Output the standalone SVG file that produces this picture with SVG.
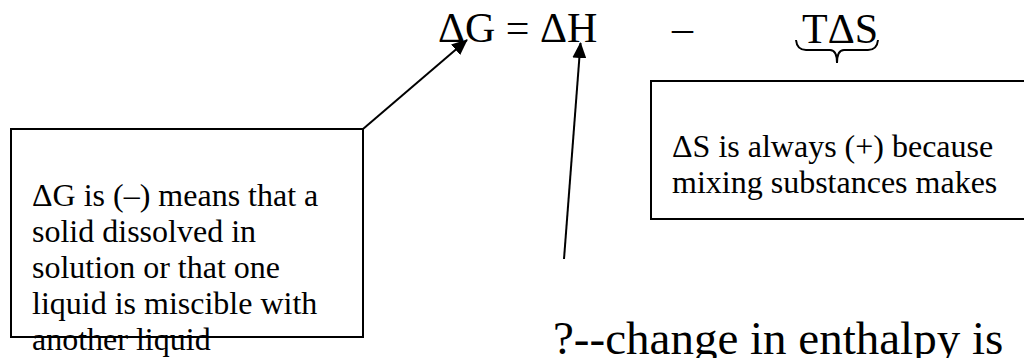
<svg xmlns="http://www.w3.org/2000/svg" width="1024" height="358" viewBox="0 0 1024 358">
<style>
text{font-family:"Liberation Serif","Times New Roman",serif;fill:#000}
.eq{font-size:42px}
.box{fill:#fff;stroke:#000;stroke-width:2}
.t{font-size:32px}
.big{font-size:47px}
.conn{stroke:#000;stroke-width:2;fill:none}
</style>
<defs>
<marker id="ah" markerWidth="10" markerHeight="10" refX="9" refY="5" orient="auto" markerUnits="userSpaceOnUse" viewBox="0 0 10 10">
<path d="M0,0 L10,5 L0,10 z" fill="#000"/>
</marker>
<marker id="ah2" markerWidth="16" markerHeight="14" refX="15" refY="7" orient="auto" markerUnits="userSpaceOnUse" viewBox="0 0 16 14">
<path d="M0,0 L16,7 L0,14 z" fill="#000"/>
</marker>
</defs>
<g id="equation">
<text class="eq" x="438" y="42">ΔG = ΔH</text>
<text class="eq" x="672" y="42">–</text>
<text class="eq" x="802" y="43">TΔS</text>
<path class="conn" stroke-width="1.5" d="M796,40 Q797,50 806,50 L830,50 Q837,50 837,63 Q837,50 844,50 L868,50 Q877,50 878,40"/>
</g>
<g id="box-dg">
<rect class="box" x="11" y="129" width="352" height="208"/>
<text class="t"><tspan x="32" y="206">ΔG is (–) means that a</tspan><tspan x="32" y="242">solid dissolved in</tspan><tspan x="32" y="278">solution or that one</tspan><tspan x="32" y="314">liquid is miscible with</tspan><tspan x="32" y="350">another liquid</tspan></text>
</g>
<g id="box-ds">
<rect class="box" x="651" y="81" width="400" height="138"/>
<text class="t"><tspan x="672" y="157">ΔS is always (+) because</tspan><tspan x="672" y="193">mixing substances makes</tspan></text>
</g>
<g id="label-dh">
<text class="big" x="553" y="354">?--change in enthalpy is</text>
</g>
<g id="connectors">
<line class="conn" x1="363" y1="129" x2="467" y2="40" marker-end="url(#ah2)"/>
<line class="conn" x1="564" y1="259" x2="580.5" y2="43" marker-end="url(#ah2)"/>
</g>
</svg>
